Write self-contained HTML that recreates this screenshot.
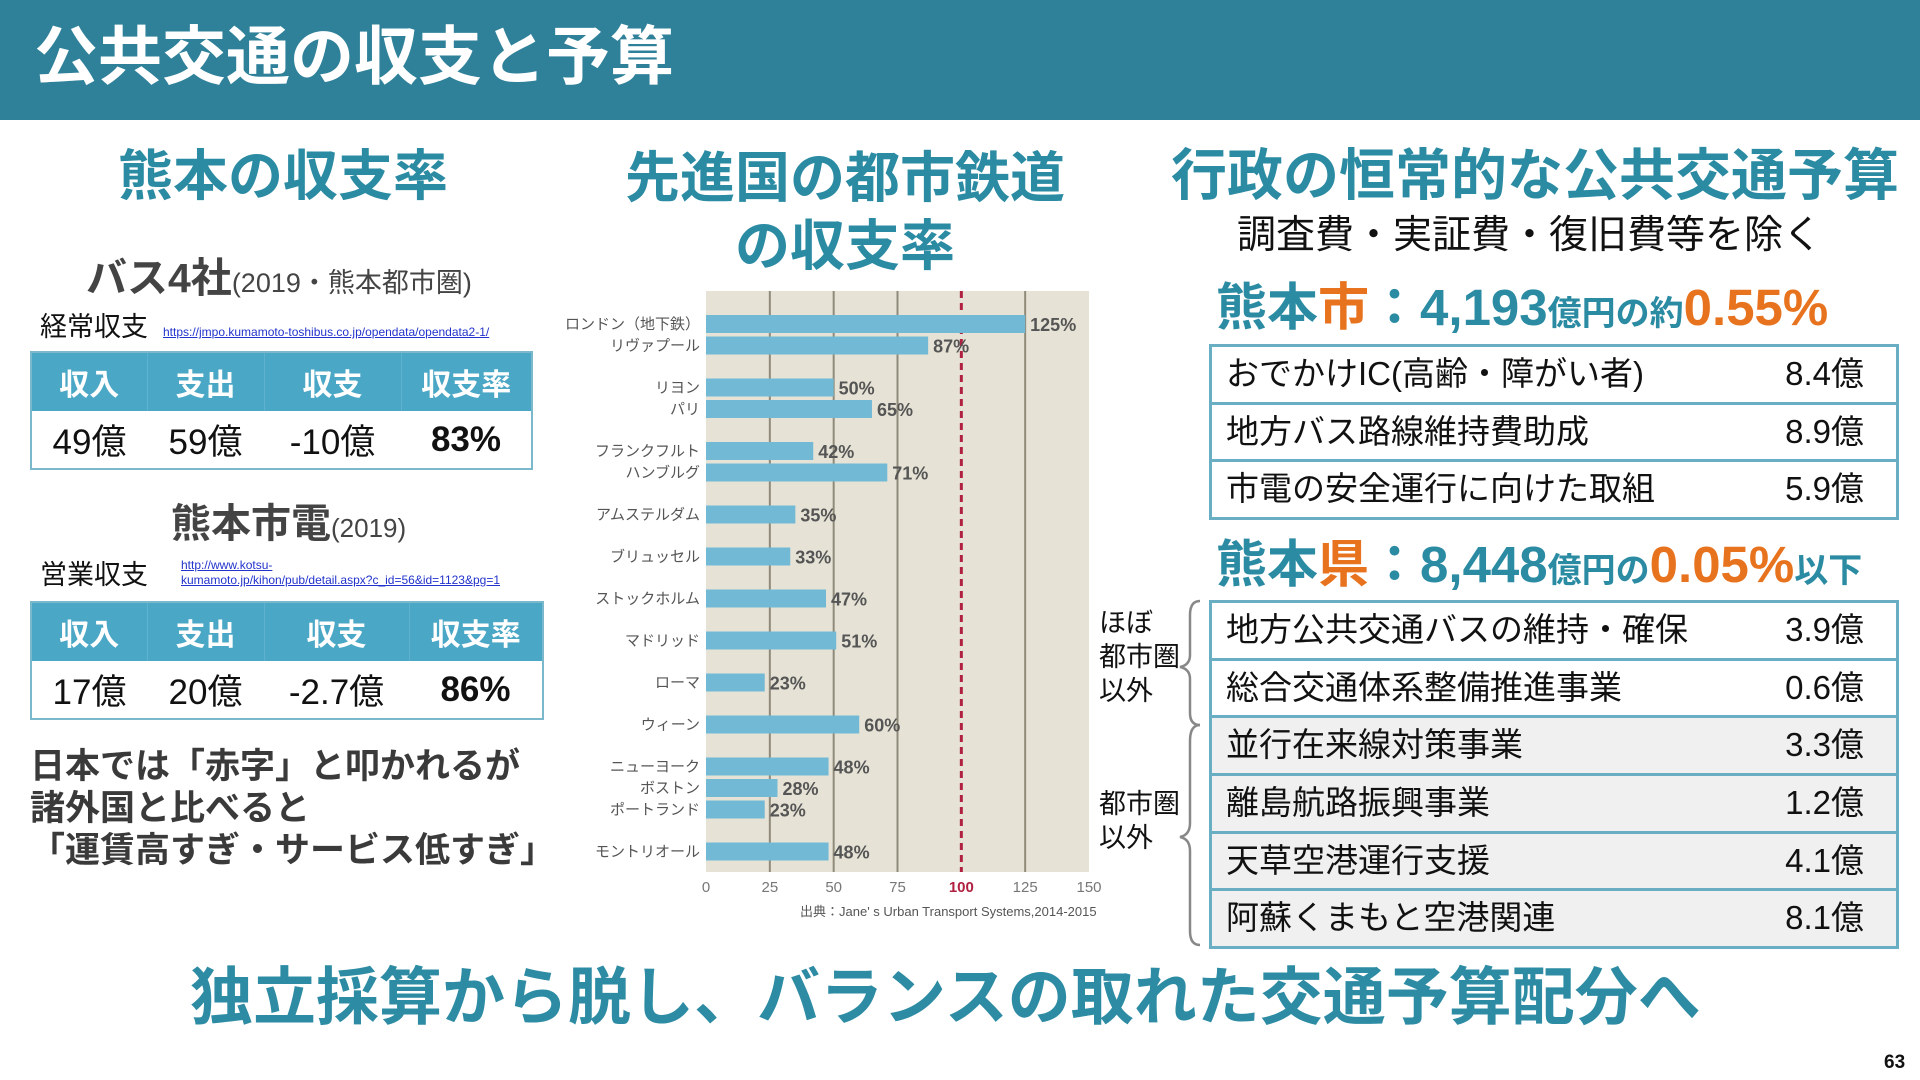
<!DOCTYPE html>
<html><head><meta charset="utf-8">
<style>
*{margin:0;padding:0;box-sizing:border-box}
body{width:1920px;height:1080px;position:relative;background:#fff;font-family:"Liberation Sans","Noto Sans CJK JP",sans-serif;overflow:hidden;color:#111}
.a{position:absolute;white-space:nowrap}
.h{color:#2b8ba3;font-weight:bold}
table{border-collapse:collapse;position:absolute}
.lt td,.lt th{text-align:center}
.lt th{background:#4ba7c6;color:#fff;font-size:30px;font-weight:bold;height:59px;border-right:1px solid #5fb2cf}
.lt td{font-size:35px;height:58px;color:#111}
.lt{border:2px solid #7bb8cc}
.rt{position:absolute;left:1209px;width:690px;border:3px solid #6aaec4;border-bottom:none}
.row{height:57.7px;border-bottom:3px solid #6aaec4;position:relative;font-size:33px;line-height:54px;white-space:nowrap}
.row .n{position:absolute;left:14px;top:0}
.row .v{position:absolute;right:32px;top:0}
.row.g{background:#f0f0f0}
.lnk{color:#2233cc;text-decoration:underline;font-size:12px}
</style></head><body>
<div class="a" style="left:0;top:0;width:1920px;height:120px;background:#2e8199"></div>
<div class="a" style="left:34px;top:20px;font-size:64px;font-weight:bold;color:#fff;line-height:74px">公共交通の収支と予算</div>

<div class="a h" style="left:118px;top:144px;font-size:55px;line-height:64px">熊本の収支率</div>
<div class="a h" style="left:620px;top:144px;font-size:55px;line-height:68px;text-align:center;width:450px;white-space:normal">先進国の都市鉄道<br>の収支率</div>
<div class="a h" style="left:1171px;top:144px;font-size:56px;line-height:64px">行政の恒常的な公共交通予算</div>
<div class="a" style="left:1237px;top:212px;font-size:39px;line-height:48px;color:#111">調査費・実証費・復旧費等を除く</div>

<!-- left -->
<div class="a" style="left:86px;top:254px;line-height:48px;color:#444"><b style="font-size:41px">バス4社</b><span style="font-size:27px">(2019・熊本都市圏)</span></div>
<div class="a" style="left:40px;top:310px;font-size:27px;line-height:34px">経常収支</div>
<div class="a lnk" style="left:163px;top:325px">https://jmpo.kumamoto-toshibus.co.jp/opendata/opendata2-1/</div>
<table class="lt" style="left:30px;top:351px;width:503px">
<tr><th style="width:116px">収入</th><th style="width:117px">支出</th><th style="width:137px">収支</th><th style="border-right:none">収支率</th></tr>
<tr><td>49億</td><td>59億</td><td>-10億</td><td style="font-weight:bold">83%</td></tr></table>

<div class="a" style="left:171px;top:500px;line-height:48px;color:#444"><b style="font-size:40px">熊本市電</b><span style="font-size:26px">(2019)</span></div>
<div class="a" style="left:40px;top:558px;font-size:27px;line-height:34px">営業収支</div>
<div class="a lnk" style="left:181px;top:558px;line-height:15px">http://www.kotsu-<br>kumamoto.jp/kihon/pub/detail.aspx?c_id=56&amp;id=1123&amp;pg=1</div>
<table class="lt" style="left:30px;top:601px;width:514px">
<tr><th style="width:116px">収入</th><th style="width:117px">支出</th><th style="width:145px">収支</th><th style="border-right:none">収支率</th></tr>
<tr><td>17億</td><td>20億</td><td>-2.7億</td><td style="font-weight:bold">86%</td></tr></table>

<div class="a" style="left:30px;top:746px;font-size:35px;line-height:42px;font-weight:bold;color:#3a3a3a">日本では「赤字」と叩かれるが<br>諸外国と比べると<br>「運賃高すぎ・サービス低すぎ」</div>

<!-- chart -->
<svg class="a" style="left:0;top:0" width="1920" height="1080" id="chart"></svg>

<!-- right -->
<div class="a h" style="left:1216px;top:278px;line-height:60px;font-size:51px">熊本<span style="color:#e8731e">市</span>：4,193<span style="font-size:34px">億円の約</span><span style="color:#e8731e">0.55%</span></div>
<div class="rt" style="top:344px">
<div class="row"><span class="n">おでかけIC(高齢・障がい者)</span><span class="v">8.4億</span></div>
<div class="row"><span class="n">地方バス路線維持費助成</span><span class="v">8.9億</span></div>
<div class="row"><span class="n">市電の安全運行に向けた取組</span><span class="v">5.9億</span></div>
</div>

<div class="a h" style="left:1216px;top:535px;line-height:60px;font-size:51px">熊本<span style="color:#e8731e">県</span>：8,448<span style="font-size:34px">億円の</span><span style="color:#e8731e">0.05%</span><span style="font-size:34px">以下</span></div>
<div class="rt" style="top:600px">
<div class="row"><span class="n">地方公共交通バスの維持・確保</span><span class="v">3.9億</span></div>
<div class="row"><span class="n">総合交通体系整備推進事業</span><span class="v">0.6億</span></div>
<div class="row g"><span class="n">並行在来線対策事業</span><span class="v">3.3億</span></div>
<div class="row g"><span class="n">離島航路振興事業</span><span class="v">1.2億</span></div>
<div class="row g"><span class="n">天草空港運行支援</span><span class="v">4.1億</span></div>
<div class="row g"><span class="n">阿蘇くまもと空港関連</span><span class="v">8.1億</span></div>
</div>

<div class="a" style="left:1099px;top:606px;font-size:27px;line-height:34px">ほぼ<br>都市圏<br>以外</div>
<div class="a" style="left:1099px;top:787px;font-size:27px;line-height:34px">都市圏<br>以外</div>
<svg class="a" style="left:1170px;top:595px" width="40" height="360">
<path d="M30 6 Q20 6 20 20 L20 60 Q20 70 10 72 Q20 74 20 84 L20 118 Q20 130 30 130" fill="none" stroke="#888" stroke-width="2.5"/>
<path d="M30 130 Q20 130 20 146 L20 228 Q20 240 10 242 Q20 244 20 256 L20 336 Q20 350 30 350" fill="none" stroke="#888" stroke-width="2.5"/>
</svg>

<div class="a h" style="left:190px;top:958px;font-size:63px;line-height:80px;color:#2d8ca3">独立採算から脱し、バランスの取れた交通予算配分へ</div>
<div class="a" style="left:1884px;top:1052px;font-size:19px;font-weight:bold">63</div>

<script>
const groups = [["ロンドン（地下鉄）","リヴァプール"],["リヨン","パリ"],["フランクフルト","ハンブルグ"],["アムステルダム"],["ブリュッセル"],["ストックホルム"],["マドリッド"],["ローマ"],["ウィーン"],["ニューヨーク","ボストン","ポートランド"],["モントリオール"]];
const values = [125,87,50,65,42,71,35,33,47,51,23,60,48,28,23,48];
const xTicks = [0,25,50,75,100,125,150];
const refValue = 100;

const NS="http://www.w3.org/2000/svg";
const svg=document.getElementById('chart');
const X0=706,X1=1089,Y0=291,Y1=872;
const xs=v=>X0+v/150*(X1-X0);
function el(t,a){const e=document.createElementNS(NS,t);for(const k in a)e.setAttribute(k,a[k]);svg.appendChild(e);return e;}
const bg=el('rect',{x:X0,y:Y0,width:X1-X0,height:Y1-Y0,fill:'#e6e3d6'});


xTicks.forEach(t=>{
  if(t>0&&t<150&&t!==refValue){const g=el('line',{x1:xs(t),x2:xs(t),y1:Y0,y2:Y1,stroke:'#8f8a7a','stroke-width':2});
  
  }
  const tx=el('text',{x:xs(t),y:Y1+20,'text-anchor':'middle','font-size':15,fill:t===refValue?'#b02040':'#777','font-weight':t===refValue?'bold':'normal'});
  tx.textContent=t;
  
  
});
const rl=el('line',{x1:xs(refValue),x2:xs(refValue),y1:Y0,y2:Y1,stroke:'#b02040','stroke-width':3,'stroke-dasharray':'7,5'});


let y=324,i=0;
groups.forEach((g,gi)=>{
  g.forEach((name,j)=>{
    if(j>0) y+=21.5;
    const v=values[i];
    const b=el('rect',{x:X0,y:y-9,width:xs(v)-X0,height:18,fill:'#72b9d6'});
    
    
    const lb=el('text',{x:X0-6,y:y+5,'text-anchor':'end','font-size':15,fill:'#555'});
    lb.textContent=name;
    
    
    const vl=el('text',{x:xs(v)+5,y:y+7,'font-size':18,'font-weight':'bold',fill:'#555'});
    vl.textContent=v+'%';
    
    
    i++;
  });
  y+=42;
});
const src=el('text',{x:800,y:916,'font-size':13,fill:'#555'});
src.textContent="出典：Jane' s Urban Transport Systems,2014-2015";


</script>
</body></html>
